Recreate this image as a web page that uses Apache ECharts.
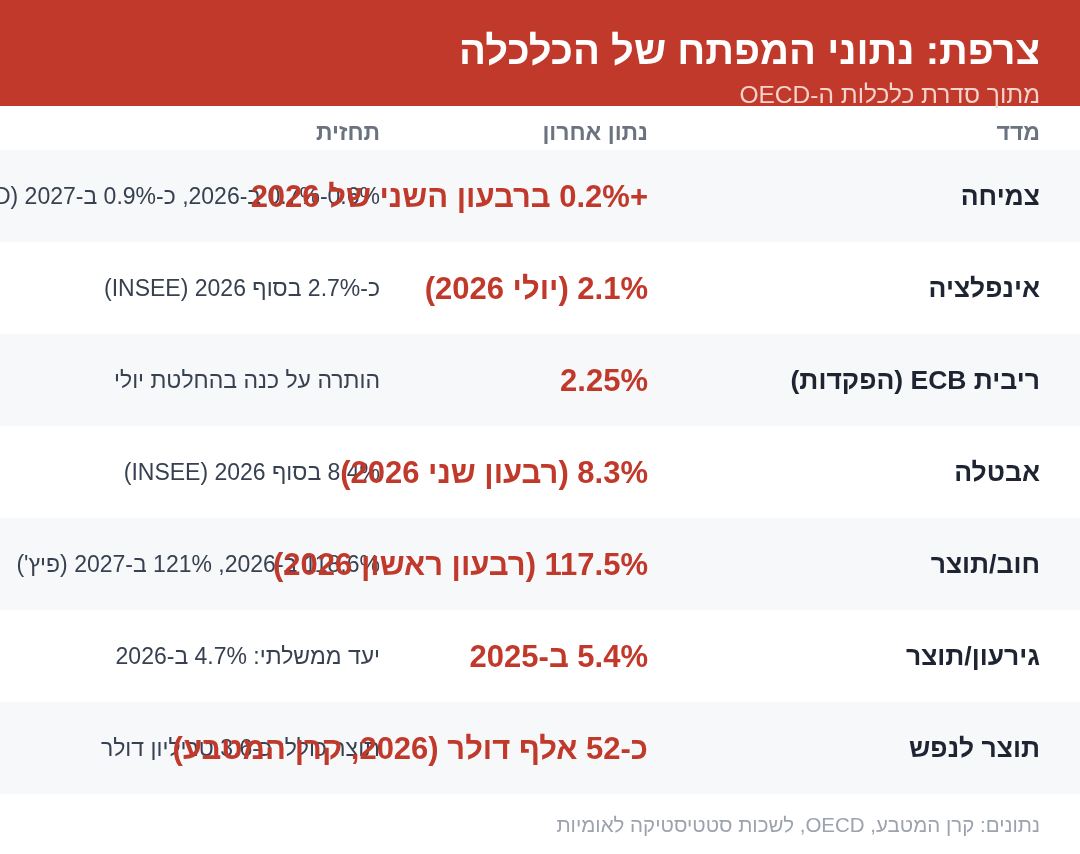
<!DOCTYPE html>
<html dir="rtl">
<head>
<meta charset="utf-8">
<script src="https://cdn.jsdelivr.net/npm/echarts@6/dist/echarts.min.js"></script>
<style>
html,body{margin:0;padding:0;background:#fff;}
#c{width:1080px;height:854px;direction:rtl;}
</style>
</head>
<body>
<div id="c"></div>
<script>
const titleText = 'צרפת: נתוני המפתח של הכלכלה';
const subtitleText = 'מתוך סדרת כלכלות ה-OECD';
const headers = ['מדד', 'נתון אחרון', 'תחזית'];
const metrics = ['צמיחה', 'אינפלציה', 'ריבית ECB (הפקדות)', 'אבטלה', 'חוב/תוצר', 'גירעון/תוצר', 'תוצר לנפש'];
const latest = [
  '+0.2% ברבעון השני של 2026',
  '2.1% (יולי 2026)',
  '2.25%',
  '8.3% (רבעון שני 2026)',
  '117.5% (רבעון ראשון 2026)',
  '5.4% ב-2025',
  'כ-52 אלף דולר (2026, קרן המטבע)'
];
const forecast = [
  '0.6%-0.7% ב-2026, כ-0.9% ב-2027 (OECD)',
  'כ-2.7% בסוף 2026 (INSEE)',
  'הותרה על כנה בהחלטת יולי',
  '8.4% בסוף 2026 (INSEE)',
  '118.6% ב-2026, 121% ב-2027 (פיץ\')',
  'יעד ממשלתי: 4.7% ב-2026',
  'תוצר כולל: כ-3.6 טריליון דולר'
];
const sourceText = 'נתונים: קרן המטבע, OECD, לשכות סטטיסטיקה לאומיות';

const FONT = '"Liberation Sans", Arial, "DejaVu Sans", sans-serif';
const RED = '#c0392b';
const COL_X = [1040, 648, 380];

const chart = echarts.init(document.getElementById('c'), null, {renderer: 'canvas'});

function hdr(i) {
  return {type: 'text', x: COL_X[i], y: 134, style: {text: headers[i], fill: '#6b7280', fontSize: 23, fontWeight: 'bold', fontFamily: FONT, textAlign: 'right', textVerticalAlign: 'middle'}};
}

const option = {
  animation: false,
  backgroundColor: '#ffffff',
  grid: {left: 0, right: 0, top: 150, bottom: 60},
  xAxis: {type: 'value', min: 0, max: 1080, show: false},
  yAxis: {type: 'category', data: metrics, inverse: true, show: false},
  graphic: [
    {type: 'rect', left: 0, top: 0, shape: {width: 1080, height: 106}, style: {fill: RED}, z: 1},
    {type: 'text', x: 1040, y: 53, style: {text: titleText, fill: '#ffffff', fontSize: 40, fontWeight: 'bold', fontFamily: FONT, textAlign: 'right', textVerticalAlign: 'middle'}, z: 2},
    {type: 'text', x: 1040, y: 96, style: {text: subtitleText, fill: '#f6d3cd', fontSize: 24.5, fontFamily: FONT, textAlign: 'right', textVerticalAlign: 'middle'}, z: 2},
    hdr(0), hdr(1), hdr(2),
    {type: 'text', x: 1040, y: 826, style: {text: sourceText, fill: '#9ca3af', fontSize: 20.5, fontFamily: FONT, textAlign: 'right', textVerticalAlign: 'middle'}}
  ],
  series: [{
    type: 'custom',
    clip: false,
    data: metrics.map((m, i) => [0, i]),
    encode: {x: 0, y: 1},
    renderItem: function (params, api) {
      const i = params.dataIndex;
      const yc = api.coord([0, i])[1];
      const h = api.size([0, 1])[1];
      const children = [];
      if (i % 2 === 0) {
        children.push({type: 'rect', shape: {x: 0, y: yc - h / 2, width: 1080, height: h}, style: {fill: '#f7f8fa'}});
      }
      const ty = yc + 2;
      children.push({type: 'text', style: {text: metrics[i], x: COL_X[0], y: ty, fill: '#1f2433', fontSize: 26.5, fontWeight: 'bold', fontFamily: FONT, textAlign: 'right', textVerticalAlign: 'middle'}});
      children.push({type: 'text', style: {text: forecast[i], x: COL_X[2], y: ty, fill: '#374151', fontSize: 23, fontFamily: FONT, textAlign: 'right', textVerticalAlign: 'middle'}});
      children.push({type: 'text', style: {text: latest[i], x: COL_X[1], y: ty, fill: RED, fontSize: 31, fontWeight: 'bold', fontFamily: FONT, textAlign: 'right', textVerticalAlign: 'middle'}});
      return {type: 'group', children: children};
    }
  }]
};
chart.setOption(option);
</script>
</body>
</html>
